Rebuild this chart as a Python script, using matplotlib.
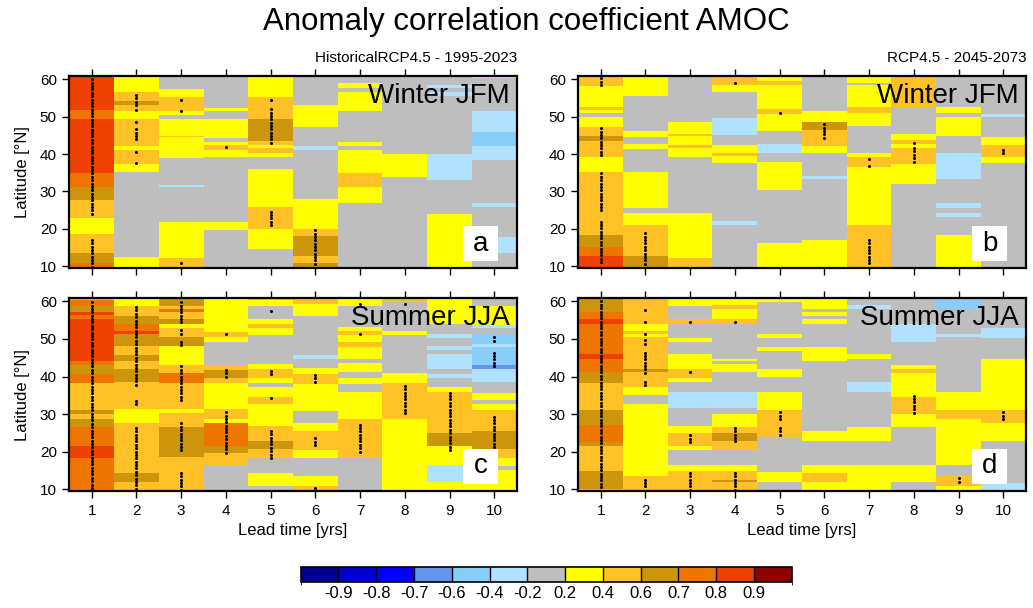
import numpy as np
import matplotlib
matplotlib.use('Agg')
import matplotlib.pyplot as plt
from matplotlib.colors import ListedColormap, BoundaryNorm
from matplotlib.patches import Rectangle

plt.rcParams['font.family'] = ['Liberation Sans', 'DejaVu Sans']

# --- data ---------------------------------------------------------------
lead_years = np.arange(1, 11)
lat_ticks = [10, 20, 30, 40, 50, 60]
cb_levels = [-0.9, -0.8, -0.7, -0.6, -0.4, -0.2, 0.2, 0.4, 0.6, 0.7, 0.8, 0.9]
cb_colors = ['#00008B', '#0000CD', '#0000FF', '#6495ED', '#87CEFA', '#B0E2FF', '#BEBEBE',
             '#FFFF00', '#FFC125', '#CD950C', '#EE7600', '#EE4000', '#8B0000']
# colour class -> representative ACC value
acc_class = {'C': -0.65, 'B': -0.5, 'b': -0.3, 'g': 0.0, 'y': 0.3,
             'o': 0.5, 'd': 0.65, 'r': 0.75, 'R': 0.85}

# each lead year: (class, lower latitude of the band), from north to south
a_cols = [
    [('R', 51.8), ('r', 49.3), ('R', 35.0), ('r', 31.2), ('d', 27.7), ('o', 23.0), ('y', 18.6), ('o', 13.6), ('d', 10.9), ('r', 9)],
    [('y', 56.5), ('o', 54.3), ('d', 53.2), ('o', 51.6), ('y', 49.4), ('o', 42.2), ('y', 41.1), ('o', 37.3), ('y', 35.1), ('g', 12.5), ('y', 9)],
    [('g', 57.4), ('y', 55.35), ('o', 51.4), ('y', 50.5), ('g', 49.4), ('y', 44.9), ('o', 44.5), ('y', 38.9), ('g', 31.7), ('b', 31.1), ('g', 21.9), ('y', 12.1), ('o', 9)],
    [('g', 52.2), ('y', 51.6), ('g', 49.4), ('y', 44.3), ('g', 43.2), ('y', 42.5), ('o', 41.1), ('y', 39.1), ('g', 21.9), ('y', 19.6), ('g', 9)],
    [('y', 55.4), ('o', 49.4), ('d', 43.5), ('o', 42.4), ('y', 41.5), ('o', 40.4), ('y', 39.1), ('g', 35.9), ('y', 25.7), ('o', 19.8), ('y', 14.7), ('g', 9)],
    [('g', 53.1), ('y', 47.3), ('g', 42.1), ('b', 41.1), ('g', 27.9), ('y', 19.8), ('o', 18.0), ('d', 12.7), ('o', 10.9), ('d', 9)],
    [('g', 59.1), ('y', 57.6), ('g', 56.7), ('y', 51.6), ('g', 43.3), ('y', 42.2), ('g', 41.1), ('y', 35.0), ('o', 31.25), ('y', 26.8), ('g', 9)],
    [('g', 40.0), ('y', 33.9), ('g', 9)],
    [('g', 58.5), ('b', 57.6), ('g', 56.7), ('b', 55.5), ('g', 40.0), ('b', 33.0), ('g', 23.9), ('y', 9)],
    [('y', 60.3), ('g', 51.6), ('b', 46.0), ('B', 42.1), ('b', 38.4), ('g', 26.8), ('b', 25.9), ('g', 17.9), ('b', 13.6), ('g', 9)],
]
b_cols = [
    [('o', 58.3), ('y', 52.5), ('o', 51.9), ('y', 50.9), ('g', 49.8), ('y', 47.3), ('o', 44.9), ('d', 43.6), ('o', 39.3), ('y', 35.1), ('o', 18.3), ('d', 15.0), ('r', 12.7), ('R', 9)],
    [('y', 55.6), ('g', 46.25), ('y', 44.6), ('g', 42.7), ('y', 41.3), ('g', 35.3), ('y', 25.5), ('g', 24.3), ('y', 21.0), ('o', 12.7), ('d', 9)],
    [('g', 48.7), ('y', 45.5), ('o', 44.9), ('y', 42.4), ('o', 41.5), ('y', 39.1), ('g', 24.3), ('y', 12.2), ('o', 9)],
    [('o', 58.5), ('y', 56.7), ('g', 49.6), ('b', 45.1), ('g', 42.4), ('y', 40.4), ('o', 39.5), ('y', 37.5), ('g', 22.1), ('b', 21.0), ('g', 9)],
    [('y', 59.5), ('o', 58.6), ('y', 52.05), ('o', 50.7), ('y', 46.25), ('g', 42.7), ('b', 40.45), ('g', 37.8), ('y', 30.5), ('g', 16.1), ('y', 9)],
    [('g', 51.6), ('y', 48.5), ('d', 46.4), ('o', 42.2), ('y', 40.2), ('g', 34.2), ('b', 33.2), ('g', 17.1), ('y', 9)],
    [('y', 59.0), ('g', 58.4), ('y', 52.5), ('o', 50.9), ('y', 47.6), ('g', 40.45), ('y', 39.1), ('o', 36.4), ('y', 21.0), ('o', 9)],
    [('o', 52.5), ('g', 45.4), ('y', 43.75), ('o', 42.7), ('y', 41.6), ('o', 37.3), ('y', 32.1), ('g', 9)],
    [('g', 52.5), ('y', 50.9), ('g', 49.8), ('y', 44.9), ('g', 40.4), ('b', 33.2), ('g', 27.0), ('b', 25.5), ('g', 24.3), ('b', 23.2), ('g', 18.3), ('y', 9)],
    [('g', 50.7), ('b', 49.8), ('g', 44.6), ('y', 42.4), ('o', 39.3), ('y', 37.7), ('g', 9)],
]
c_cols = [
    [('o', 60.3), ('r', 58.9), ('d', 57.3), ('R', 56.4), ('r', 55.2), ('R', 44.2), ('r', 43.0), ('d', 40.6), ('r', 38.2), ('o', 31.25), ('d', 29.9), ('o', 28.75), ('d', 26.6), ('r', 21.6), ('R', 18.3), ('r', 9)],
    [('y', 58.9), ('o', 56.25), ('d', 54.0), ('r', 52.0), ('R', 51.3), ('d', 48.2), ('o', 45.7), ('d', 44.2), ('o', 42.1), ('d', 38.6), ('o', 31.4), ('y', 27.7), ('o', 14.3), ('d', 11.8), ('o', 9)],
    [('d', 58.9), ('o', 58.0), ('r', 57.3), ('o', 55.2), ('d', 54.0), ('y', 52.9), ('o', 50.4), ('d', 48.2), ('y', 43.0), ('o', 40.9), ('r', 38.2), ('o', 31.4), ('y', 30.4), ('o', 26.6), ('d', 18.6), ('o', 9)],
    [('y', 51.8), ('o', 50.4), ('y', 49.3), ('g', 43.0), ('o', 41.8), ('d', 39.7), ('o', 38.2), ('y', 31.4), ('o', 28.75), ('y', 27.5), ('r', 21.6), ('d', 19.5), ('o', 16.5), ('g', 9)],
    [('o', 60.3), ('y', 58.9), ('g', 55.2), ('y', 54.0), ('o', 52.9), ('y', 51.1), ('g', 43.3), ('y', 42.0), ('o', 39.7), ('y', 38.2), ('g', 37.1), ('y', 34.6), ('o', 32.6), ('y', 26.8), ('o', 22.8), ('d', 20.7), ('o', 18.3), ('g', 14.3), ('y', 10.9), ('g', 9)],
    [('o', 59.2), ('y', 56.25), ('g', 45.8), ('b', 44.7), ('g', 42.2), ('y', 40.7), ('o', 38.0), ('y', 30.8), ('g', 27.7), ('y', 25.5), ('o', 20.5), ('y', 18.3), ('g', 13.4), ('y', 10.9), ('o', 9)],
    [('y', 58.9), ('g', 53.1), ('y', 52.2), ('o', 51.1), ('y', 49.3), ('o', 47.8), ('y', 44.6), ('g', 43.75), ('y', 41.1), ('g', 39.5), ('y', 37.9), ('g', 35.9), ('y', 28.6), ('o', 18.3), ('g', 9)],
    [('o', 59.9), ('g', 52.0), ('y', 51.1), ('g', 40.9), ('y', 38.2), ('o', 28.75), ('y', 9)],
    [('y', 54.0), ('g', 51.3), ('b', 50.2), ('g', 48.2), ('b', 47.1), ('g', 46.0), ('b', 42.0), ('g', 40.6), ('b', 39.7), ('g', 37.3), ('y', 35.9), ('o', 25.0), ('d', 21.6), ('y', 16.5), ('b', 11.8), ('y', 9)],
    [('g', 58.9), ('y', 53.75), ('b', 52.9), ('g', 51.3), ('B', 48.7), ('b', 47.8), ('B', 43.0), ('C', 42.0), ('b', 38.6), ('g', 35.7), ('y', 33.75), ('g', 32.6), ('y', 31.1), ('o', 25.5), ('d', 20.7), ('o', 18.3), ('y', 16.1), ('g', 15.2), ('y', 9)],
]
d_cols = [
    [('d', 57.3), ('r', 55.2), ('R', 54.0), ('r', 46.0), ('R', 44.8), ('r', 41.1), ('d', 38.2), ('o', 31.25), ('d', 27.0), ('r', 22.5), ('d', 21.6), ('o', 14.7), ('d', 10.0), ('o', 9)],
    [('o', 54.0), ('y', 52.0), ('o', 51.3), ('y', 50.4), ('o', 42.1), ('d', 41.1), ('o', 37.1), ('y', 35.0), ('g', 32.6), ('y', 13.6), ('o', 9)],
    [('y', 58.9), ('g', 55.2), ('o', 54.0), ('g', 50.2), ('y', 49.1), ('g', 46.0), ('y', 42.1), ('o', 39.7), ('y', 38.6), ('g', 35.9), ('b', 31.7), ('g', 26.8), ('y', 25.0), ('o', 21.6), ('y', 20.5), ('g', 16.5), ('y', 14.7), ('o', 9)],
    [('y', 59.1), ('o', 57.9), ('y', 55.2), ('o', 54.0), ('g', 44.8), ('y', 44.2), ('g', 43.3), ('y', 41.1), ('g', 35.9), ('b', 31.7), ('g', 29.9), ('y', 26.6), ('o', 25.0), ('d', 22.8), ('o', 20.5), ('g', 16.5), ('y', 14.7), ('o', 12.5), ('d', 11.8), ('o', 9)],
    [('y', 59.8), ('g', 51.3), ('y', 50.2), ('g', 47.8), ('y', 46.9), ('g', 42.0), ('y', 40.0), ('g', 35.9), ('y', 31.1), ('o', 23.9), ('g', 14.5), ('y', 11.8), ('g', 9)],
    [('y', 58.0), ('g', 57.3), ('y', 56.25), ('g', 55.2), ('y', 54.0), ('g', 48.0), ('y', 44.2), ('g', 25.5), ('y', 22.8), ('g', 16.5), ('y', 14.3), ('o', 11.8), ('y', 9)],
    [('g', 59.1), ('b', 58.0), ('g', 46.0), ('y', 44.8), ('g', 38.6), ('b', 35.9), ('g', 26.6), ('y', 22.8), ('g', 16.5), ('y', 9)],
    [('g', 54.0), ('b', 49.3), ('g', 43.0), ('y', 42.1), ('o', 40.9), ('y', 34.6), ('o', 29.9), ('y', 26.6), ('g', 16.5), ('y', 11.8), ('g', 9)],
    [('g', 60.3), ('B', 58.0), ('g', 51.3), ('b', 50.4), ('g', 35.9), ('y', 31.1), ('o', 28.75), ('y', 16.5), ('g', 13.4), ('o', 10.7), ('y', 9)],
    [('g', 52.9), ('b', 50.2), ('g', 44.6), ('y', 31.1), ('o', 27.7), ('y', 22.8), ('g', 11.6), ('b', 9)],
]

# significance stippling: (north, south) latitude runs per lead year
a_dots = [[(60.0, 23.2), (17.0, 9.8)],
          [(55.8, 53.1), (51.8, 51.8), (48.7, 48.7), (46.6, 43.75), (40.6, 40.6), (37.5, 37.5)],
          [(54.6, 53.75), (51.6, 51.6), (10.7, 10.7)],
          [(41.8, 41.8)],
          [(54.6, 54.6), (52.0, 42.4), (24.6, 20.4)],
          [(19.6, 9.8)], [], [], [], []]
b_dots = [[(60.3, 58.5), (46.9, 39.5), (34.8, 24.6), (21.9, 10.3)],
          [(18.75, 10.3)], [], [(58.9, 58.9)], [(50.9, 50.9)], [(48.0, 43.6)],
          [(38.7, 38.7), (36.7, 36.7), (17.0, 10.3)],
          [(42.9, 42.9), (41.6, 37.5)], [], [(41.1, 39.7)]]
c_dots = [[(59.8, 9.8)],
          [(58.5, 37.1), (33.5, 32.1), (26.3, 9.8)],
          [(59.8, 53.6), (52.5, 52.5), (51.3, 51.3), (49.3, 48.2), (42.7, 33.0), (27.5, 19.6), (14.3, 9.8)],
          [(51.3, 51.3), (41.8, 39.3), (30.5, 18.9)],
          [(57.4, 57.4), (41.5, 40.2), (34.3, 34.3), (25.5, 17.9)],
          [(40.45, 38.0), (23.5, 21.0), (10.3, 10.3)],
          [(59.4, 59.4), (51.3, 51.3), (27.2, 19.2)],
          [(59.4, 59.4), (37.5, 30.2)],
          [(35.7, 19.8)],
          [(50.4, 49.1), (46.4, 42.1), (29.3, 21.0)]]
d_dots = [[(60.0, 9.8)],
          [(57.6, 57.6), (54.5, 54.5), (51.3, 51.3), (49.6, 48.2), (46.4, 40.6), (38.6, 37.1), (12.5, 10.3)],
          [(54.5, 54.5), (41.3, 41.3), (24.3, 22.1), (14.3, 9.8)],
          [(54.5, 54.5), (26.3, 21.9), (14.3, 9.8)],
          [(30.5, 28.75), (26.3, 24.1)],
          [], [], [(34.9, 29.9)], [(12.9, 11.8)], [(30.5, 28.1)]]

# --- plotting -----------------------------------------------------------
cb_bounds = [-1.0] + cb_levels + [1.0]
cmap = ListedColormap(cb_colors)
norm = BoundaryNorm(cb_bounds, cmap.N)

lat_edges = np.linspace(9.4, 60.9, 516)
lat_mid = 0.5 * (lat_edges[:-1] + lat_edges[1:])
x_edges = np.arange(0.5, 11.0, 1.0)


def to_grid(cols):
    z = np.zeros((lat_mid.size, len(cols)))
    for j, segs in enumerate(cols):
        for i, la in enumerate(lat_mid):
            for code, south in segs:
                if la >= south:
                    z[i, j] = acc_class[code]
                    break
    return z


fig = plt.figure(figsize=(10.33, 6.08), dpi=100)

panels = [
    (a_cols, a_dots, 'Winter JFM', 'a', [0.0671, 0.5587, 0.4331, 0.3163], True, False),
    (b_cols, b_dots, 'Winter JFM', 'b', [0.5598, 0.5587, 0.4331, 0.3163], False, False),
    (c_cols, c_dots, 'Summer JJA', 'c', [0.0671, 0.1919, 0.4331, 0.3178], True, True),
    (d_cols, d_dots, 'Summer JJA', 'd', [0.5598, 0.1919, 0.4331, 0.3178], False, True),
]

for cols, dots, season, letter, pos, left, bottom in panels:
    ax = fig.add_axes(pos)
    mesh = ax.pcolormesh(x_edges, lat_edges, to_grid(cols), cmap=cmap, norm=norm)
    for j, runs in enumerate(dots):
        for north, south in runs:
            la = np.arange(north, south - 0.05, -0.9)
            ax.plot(np.full(la.size, lead_years[j]), la, 'o', color='k', ms=2.2, mew=0)
    ax.set_xlim(0.5, 10.5)
    ax.set_ylim(9.4, 60.9)
    ax.set_xticks(lead_years)
    ax.set_yticks(lat_ticks)
    ax.tick_params(direction='out', length=5, width=1, top=True, right=False,
                   labelsize=11, pad=4)
    if not bottom:
        ax.set_xticklabels([])
    for s in ax.spines.values():
        s.set_linewidth(1.6)
    ax.text(0.985, 0.965, season, transform=ax.transAxes, ha='right', va='top', fontsize=20)
    ax.add_patch(Rectangle((0.880, 0.038), 0.078, 0.182, transform=ax.transAxes,
                           facecolor='white', edgecolor='none', zorder=5))
    ax.text(0.919, 0.129, letter, transform=ax.transAxes, ha='center', va='center',
            fontsize=20, zorder=6)
    if left:
        fig.text(0.022, pos[1] + pos[3] / 2, 'Latitude [°N]', rotation=90,
                 ha='center', va='center', fontsize=12)
    if bottom:
        fig.text(pos[0] + pos[2] / 2, 0.128, 'Lead time [yrs]', ha='center',
                 va='center', fontsize=12)

fig.text(0.5097, 0.963, 'Anomaly correlation coefficient AMOC', ha='center',
         va='center', fontsize=22.5)
fig.text(0.5005, 0.905, 'HistoricalRCP4.5 - 1995-2023', ha='right', va='center', fontsize=11)
fig.text(0.994, 0.905, 'RCP4.5 - 2045-2073', ha='right', va='center', fontsize=11)

cax = fig.add_axes([0.2911, 0.0423, 0.4753, 0.0257])
cb = fig.colorbar(mesh, cax=cax, orientation='horizontal', boundaries=cb_bounds,
                  spacing='uniform', ticks=cb_levels, drawedges=True)
cb.ax.set_xticklabels([f'{v:.1f}' for v in cb_levels])
cb.ax.tick_params(length=0, labelsize=12, pad=3)
cb.outline.set_linewidth(1.2)
cb.dividers.set_linewidth(1.0)

fig.savefig('out.png', dpi=100)
